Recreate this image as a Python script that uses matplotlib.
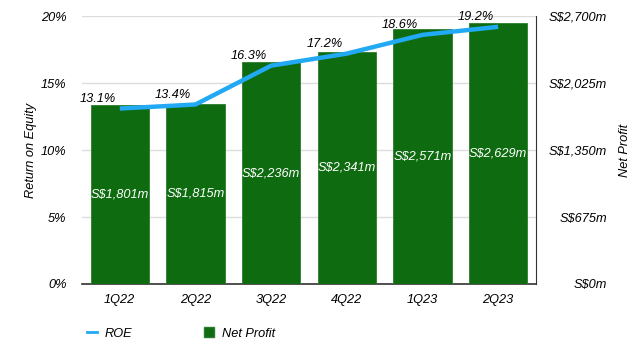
import matplotlib.pyplot as plt
from matplotlib.lines import Line2D
from matplotlib.patches import Patch

# ── data ──────────────────────────────────────────────────────────────────────
quarters   = ['1Q22', '2Q22', '3Q22', '4Q22', '1Q23', '2Q23']
roe        = [13.1, 13.4, 16.3, 17.2, 18.6, 19.2]          # %
net_profit = [1801, 1815, 2236, 2341, 2571, 2629]          # S$m

roe_ticks    = [0, 5, 10, 15, 20]
profit_ticks = [0, 675, 1350, 2025, 2700]

green = '#0e6b10'
blue  = '#22a9f3'

plt.rcParams['font.family'] = ['Liberation Sans', 'DejaVu Sans']
plt.rcParams['font.style'] = 'italic'
fs = 9.2

fig = plt.figure(figsize=(6.4, 3.5), dpi=100)
ax2 = fig.add_axes([0.128, 0.1886, 0.7095, 0.7654])   # net profit (right)
ax = fig.add_axes(ax2.get_position(), sharex=ax2)     # ROE (left), drawn on top
ax.patch.set_visible(False)

x = list(range(len(quarters)))

# ── bars on right axis ───────────────────────────────────────────────────────
ax2.bar(x, net_profit, width=0.77, color=green, edgecolor='#2a7d2a', lw=0.6, zorder=3)
for xi, v in zip(x, net_profit):
    ax2.text(xi, v / 2, f'S${v:,}m', color='white', ha='center', va='center',
             fontsize=fs, fontstyle='italic', zorder=4)
ax2.set_ylim(0, 2700)
ax2.set_yticks(profit_ticks)
ax2.set_yticklabels([f'S${t:,}m' for t in profit_ticks], ha='right')
ax2.yaxis.tick_right()
ax2.yaxis.set_label_position('right')
ax2.tick_params(axis='y', length=0, pad=51, labelsize=fs)
ax2.set_ylabel('Net Profit', fontsize=fs, fontstyle='italic', labelpad=9)
ax2.grid(axis='y', color='#dcdcdc', lw=1, zorder=0)
ax2.set_axisbelow(True)
ax2.set_xlim(-0.5, 5.5)
ax2.set_xticks(x)
ax2.set_xticklabels(quarters, fontsize=fs, fontstyle='italic')
ax2.tick_params(axis='x', length=0, pad=7)
for s in ['top', 'left']:
    ax2.spines[s].set_visible(False)
ax2.spines['right'].set_color('#333333')
ax2.spines['bottom'].set_color('#333333')
ax2.spines['bottom'].set_linewidth(1.2)

# ── ROE line on left axis ────────────────────────────────────────────────────
ax.plot(x, roe, color=blue, lw=3.2, solid_capstyle='butt', zorder=5)
for xi, r in zip(x, roe):
    ax.annotate(f'{r}%', (xi, r), xytext=(-3, 2.5), textcoords='offset points',
                ha='right', va='bottom', fontsize=fs, fontstyle='italic')
ax.set_ylim(0, 20)
ax.set_yticks(roe_ticks)
ax.set_yticklabels([f'{t}%' for t in roe_ticks])
ax.tick_params(axis='y', length=0, pad=11, labelsize=fs)
ax.tick_params(axis='x', bottom=False, labelbottom=False)
ax.set_ylabel('Return on Equity', fontsize=fs, fontstyle='italic', labelpad=3)
for s in ax.spines.values():
    s.set_visible(False)

# ── legend ───────────────────────────────────────────────────────────────────
handles = [Line2D([0], [0], color=blue, lw=2),
           Patch(facecolor=green, edgecolor='#2a7d2a')]
fig.legend(handles, ['ROE', 'Net Profit'], loc='center left',
           bbox_to_anchor=(0.118, 0.048), ncol=2, frameon=False,
           fontsize=fs, handlelength=0.8, handleheight=0.9,
           handletextpad=0.6, columnspacing=5.6)

plt.savefig('out.png', dpi=100)
